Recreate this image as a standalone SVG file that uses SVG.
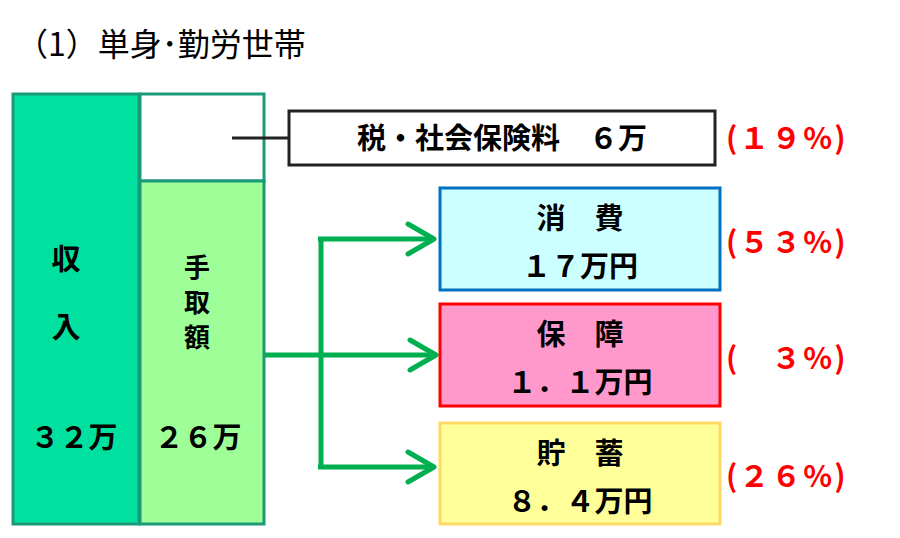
<svg xmlns="http://www.w3.org/2000/svg" width="900" height="538" viewBox="0 0 900 538">
<style>
text{font-family:"Noto Sans CJK JP","Noto Sans",sans-serif;font-weight:bold;fill:#000}
.b{font-size:29px;text-anchor:middle}
.v{font-size:26px;text-anchor:middle}
.p{font-size:30px;fill:#ff0000;letter-spacing:2px}
.g{stroke:#00b050;stroke-width:5;fill:none}
</style>
<rect width="900" height="538" fill="#fff"/>
<text x="16" y="56" style="font-size:32px;font-weight:normal">（1）単身･勤労世帯</text>
<g id="income"><rect x="13" y="94" width="126" height="430" fill="#00e09e" stroke="#1a9a78" stroke-width="3"/>
<text class="b" x="66" y="270">収</text><text class="b" x="66" y="338">入</text><text class="b" x="74" y="448">３２万</text></g>
<g id="tax-part"><rect x="140" y="94" width="124" height="87" fill="#fff" stroke="#1a9a78" stroke-width="3"/></g>
<g id="net"><rect x="140" y="181" width="124" height="343" fill="#9eff99" stroke="#1a9a78" stroke-width="3"/>
<text class="v" x="197" y="277">手</text><text class="v" x="197" y="312">取</text><text class="v" x="197" y="347">額</text><text class="b" x="198" y="448">２６万</text></g>
<g id="connectors">
<line x1="232" y1="138" x2="290" y2="138" stroke="#222" stroke-width="3"/>
<path class="g" d="M265 355H432M321 237V469M318 239H432M318 467H432"/>
<path class="g" d="M408 224L434 239L408 254M410 340L436 355L410 370M408 452L434 467L408 482" stroke-linecap="round" stroke-linejoin="round"/>
</g>
<g id="taxbox"><rect x="289" y="111" width="426" height="54" fill="#fff" stroke="#222" stroke-width="3"/>
<text class="b" x="502" y="149">税・社会保険料　６万</text></g>
<g id="consume"><rect x="440" y="188" width="280" height="102" fill="#ccffff" stroke="#0070c0" stroke-width="3"/>
<text class="b" x="580" y="229">消　費</text><text class="b" x="580" y="277">１７万円</text></g>
<g id="insure"><rect x="440" y="304" width="280" height="102" fill="#ff99cc" stroke="#ff0000" stroke-width="3"/>
<text class="b" x="580" y="345">保　障</text><text class="b" x="580" y="393">１．１万円</text></g>
<g id="save"><rect x="440" y="423" width="280" height="101" fill="#ffff99" stroke="#ffd966" stroke-width="3"/>
<text class="b" x="580" y="464">貯　蓄</text><text class="b" x="580" y="512">８．４万円</text></g>
<text class="p" x="726" y="149">(１９%)</text>
<text class="p" x="726" y="253">(５３%)</text>
<text class="p" x="726" y="369">(　３%)</text>
<text class="p" x="726" y="487">(２６%)</text>
</svg>
